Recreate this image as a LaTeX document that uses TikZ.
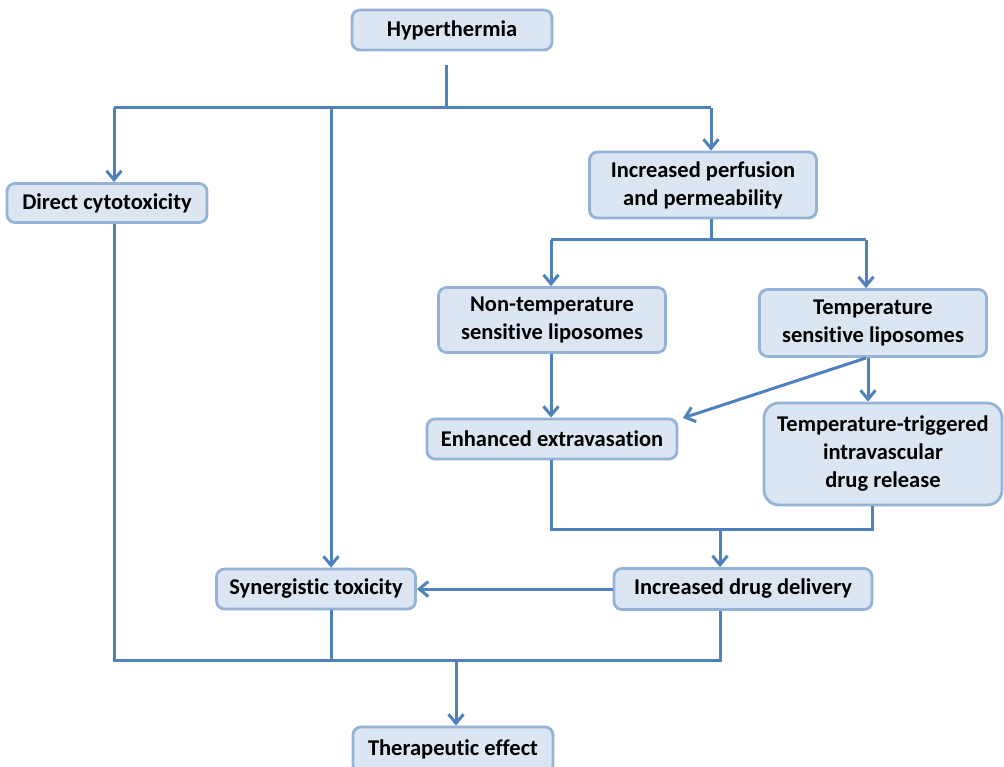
\documentclass[tikz,border=0pt]{standalone}
\usepackage{fontspec}
\setmainfont{Carlito}[Ligatures=NoCommon]
\usetikzlibrary{arrows.meta}
\definecolor{boxfill}{HTML}{DCE6F2}
\definecolor{boxline}{HTML}{95B3D7}
\definecolor{conn}{HTML}{4F81BD}
\tikzset{
  box/.style={draw=boxline, fill=boxfill, line width=2.8pt, rounded corners=8pt,
    font=\fontsize{22.5}{28}\selectfont\bfseries, align=center, inner sep=0pt},
  conn/.style={draw=conn, line width=3pt},
  arr/.style={conn, -{Straight Barb[length=9pt,width=15pt]}},
}
\begin{document}
\begin{tikzpicture}[x=1pt,y=-1pt]
\useasboundingbox (0,0) rectangle (1004,767);
\clip (0,0) rectangle (1004,767);
\fill[white] (0,0) rectangle (1004,767);

\node[box, minimum width=200pt, minimum height=40pt] (hyp) at (452,30) {Hyperthermia};
\node[box, minimum width=200pt, minimum height=39pt] (dc) at (107,203) {Direct cytotoxicity};
\node[box, minimum width=227pt, minimum height=66pt] (ipp) at (703,185) {Increased perfusion\\and permeability};
\node[box, minimum width=227pt, minimum height=65pt] (ntl) at (552,320) {Non-temperature\\sensitive liposomes};
\node[box, minimum width=227pt, minimum height=67pt] (tsl) at (873,323) {Temperature\\sensitive liposomes};
\node[box, minimum width=250pt, minimum height=40pt] (ee) at (552,439) {Enhanced extravasation};
\node[box, rounded corners=15pt, minimum width=238pt, minimum height=102pt] (ttr) at (883,454) {Temperature-triggered\\intravascular\\drug release};
\node[box, minimum width=258pt, minimum height=41pt] (idd) at (743,589) {Increased drug delivery};
\node[box, minimum width=199pt, minimum height=40pt] (syn) at (316,589) {Synergistic toxicity};
\node[box, minimum width=200pt, minimum height=46pt] (te) at (453,750) {\raisebox{4pt}{Therapeutic effect}};

% top distribution
\coordinate (h0) at (446,65);
\coordinate (h1) at (446,108);
\coordinate (hl) at (114,108);
\coordinate (hm) at (331,108);
\coordinate (hr) at (711,108);
\draw[conn] (h0) -- (h1);
\draw[conn] (hl) -- (hr);
\draw[arr] (hl) -- (dc.north -| hl);
\draw[arr] (hm) -- (syn.north -| hm);
\draw[arr] (hr) -- (ipp.north -| hr);

% perfusion split
\coordinate (p0) at (711,240);
\coordinate (pl) at (551,240);
\coordinate (pr) at (866,240);
\draw[conn] (ipp.south -| p0) -- (p0);
\draw[conn] (pl) -- (pr);
\draw[arr] (pl) -- (ntl.north -| pl);
\draw[arr] (pr) -- (tsl.north -| pr);

% liposomes
\draw[arr] (ntl.south -| pl) -- (ee.north -| pl);
\coordinate (t0) at (866,358);
\coordinate (eet) at (683,418);
\coordinate (ttx) at (868,358);
\draw[arr] (ttx) -- (ttr.north -| ttx);
\draw[arr] (t0) -- (eet);

% merge to drug delivery
\coordinate (m0) at (551,529);
\coordinate (m1) at (872,529);
\coordinate (mm) at (720,529);
\draw[conn] (ee.south -| m0) -- (m0) -- (m1) -- (ttr.south -| m1);
\draw[arr] (mm) -- (idd.north -| mm);

% drug delivery to synergistic
\draw[arr] (idd.west) -- (syn.east);

% bottom merge
\coordinate (bl) at (114,660);
\coordinate (bm) at (331,660);
\coordinate (br) at (720,660);
\coordinate (bc) at (456,660);
\draw[conn] (dc.south -| bl) -- (bl) -- (br) -- (idd.south -| br);
\draw[conn] (syn.south -| bm) -- (bm);
\draw[arr] (bc) -- (te.north -| bc);
\end{tikzpicture}
\end{document}
